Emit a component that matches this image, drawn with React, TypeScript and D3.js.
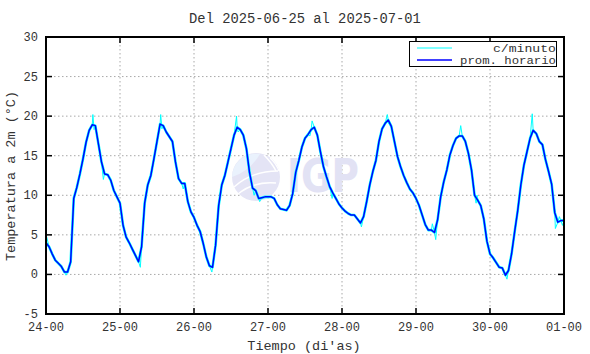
import React from 'react';
import * as d3 from 'd3';

const title = 'Del 2025-06-25 al 2025-07-01';
const xLabel = "Tiempo (di'as)";
const yLabel = 'Temperatura a 2m (°C)';
const xTickLabels = ['24-00', '25-00', '26-00', '27-00', '28-00', '29-00', '30-00', '01-00'];
const yTicks = [-5, 0, 5, 10, 15, 20, 25, 30];
const seriesNames = ['c/minuto', 'prom. horario'];

// hourly means, one array per day (hour 0..23)
const day24 = [4.0, 3.5, 2.6, 1.8, 1.4, 1.0, 0.3, 0.3, 1.6, 9.6, 11.0, 12.7, 14.6, 16.7, 18.2, 18.9, 18.8, 16.5, 14.2, 12.7, 12.6, 11.9, 10.6, 9.8];
const day25 = [9.0, 6.2, 4.7, 4.0, 3.2, 2.4, 1.6, 3.5, 9.0, 11.3, 12.5, 14.6, 16.8, 19.0, 18.8, 18.0, 17.4, 16.8, 14.2, 12.1, 11.5, 11.5, 9.2, 7.9];
const day26 = [7.2, 6.2, 5.4, 3.9, 2.2, 1.1, 0.9, 3.7, 8.7, 11.3, 12.5, 14.2, 15.9, 17.6, 18.6, 18.3, 17.6, 15.9, 12.9, 10.9, 10.6, 9.6, 9.7, 9.8];
const day27 = [9.8, 9.8, 9.6, 8.8, 8.3, 8.2, 8.1, 8.7, 10.2, 12.9, 14.4, 16.1, 17.2, 17.7, 18.3, 18.6, 17.6, 15.5, 13.6, 12.3, 11.1, 10.3, 9.6, 8.9];
const day28 = [8.4, 8.0, 7.7, 7.5, 7.5, 7.0, 6.5, 7.3, 9.2, 11.3, 13.0, 14.4, 16.8, 18.4, 19.1, 19.5, 18.7, 16.8, 14.9, 13.6, 12.5, 11.6, 10.8, 10.3];
const day29 = [9.6, 8.7, 7.5, 6.3, 5.6, 5.6, 5.3, 6.9, 9.8, 11.7, 13.2, 15.1, 16.3, 17.2, 17.5, 17.5, 16.8, 15.3, 13.2, 10.0, 9.4, 8.7, 7.0, 4.2];
const day30 = [2.6, 2.1, 1.5, 0.9, 0.8, -0.1, 0.5, 2.6, 5.4, 8.1, 11.3, 13.8, 15.5, 17.2, 18.2, 17.8, 16.8, 16.4, 14.5, 13.0, 11.4, 7.8, 6.6, 6.8];
const day01 = [6.8];

// per-minute excursions visible around the hourly line: [hour from start, value]
const minuteSpikes: [number, number][] = [
  [0.05, 5.0], [6.5, -0.1], [15.2, 20.2], [15.6, 18.3], [18.6, 12.0],
  [30.6, 0.9], [37.2, 20.2], [37.6, 18.4], [44.5, 10.8],
  [53.8, 0.3], [61.8, 20.0], [62.3, 18.0], [67.5, 10.0], [69.3, 9.2],
  [85.6, 17.5], [86.3, 19.4], [92.8, 9.6],
  [102.3, 6.0], [110.7, 20.2], [111.2, 19.0],
  [125.3, 6.4], [126.4, 4.4], [134.5, 18.8], [139.5, 9.0], [139.8, 10.0],
  [149.5, -0.6], [157.7, 20.3], [158.1, 18.0], [165.2, 5.8], [166.5, 7.3], [167.5, 6.2],
];

const font = '"Liberation Mono", "DejaVu Sans Mono", monospace';

export default function App() {
  const left = 46, right = 564, top = 37, bottom = 314;
  const hourly = [...day24, ...day25, ...day26, ...day27, ...day28, ...day29, ...day30, ...day01];

  const x = d3.scaleLinear().domain([0, 168]).range([left, right]);
  const y = d3.scaleLinear().domain([-5, 30]).range([bottom, top]);
  const xTicks = xTickLabels.map((_, i) => i * 24);

  const line = d3.line<[number, number]>().x((d) => x(d[0])).y((d) => y(d[1]));
  const hourlyPts: [number, number][] = hourly.map((v, i) => [i, v]);
  const minutePts: [number, number][] = [...hourlyPts, ...minuteSpikes].sort((a, b) => a[0] - b[0]);

  // watermark position
  const wx = 256, wy = 177, wr = 24;

  return (
    <svg width={590} height={354} style={{ position: 'fixed', left: 0, top: 0, background: '#fff' }}>
      <text x={305} y={23} textAnchor="middle" fontFamily={font} fontSize={13.8} fill="#333">{title}</text>

      {/* grid */}
      {yTicks.filter((t) => t > -5 && t < 30).map((t) => (
        <line key={'gy' + t} x1={left} x2={right} y1={y(t)} y2={y(t)} stroke="#a8a8a8" strokeWidth={1} strokeDasharray="1.5,2.5" />
      ))}
      {xTicks.filter((t) => t > 0 && t < 168).map((t) => (
        <line key={'gx' + t} x1={x(t)} x2={x(t)} y1={top} y2={bottom} stroke="#a8a8a8" strokeWidth={1} strokeDasharray="1.5,2.5" />
      ))}

      {/* IGP watermark */}
      <g>
        <circle cx={wx} cy={wy} r={wr} fill="#e4e4f5" />
        <path d={`M${wx - wr} ${wy} A${wr} ${wr} 0 0 1 ${wx + 4} ${wy - wr + 1} Q${wx - 6} ${wy - 6} ${wx - wr} ${wy}`} fill="#eaf2fd" />
        <path d={`M${wx - wr + 2} ${wy + 10} Q${wx - 4} ${wy - 6} ${wx + 22} ${wy - 6}`} fill="none" stroke="#fff" strokeWidth={1.5} />
        <path d={`M${wx - 18} ${wy + 17} Q${wx - 2} ${wy + 4} ${wx + 20} ${wy + 6}`} fill="none" stroke="#fff" strokeWidth={1.5} />
        <path d={`M${wx + 8} ${wy - 22} Q${wx + 16} ${wy - 14} ${wx + 20} ${wy - 6}`} fill="none" stroke="#fff" strokeWidth={1.5} />
        <path d={`M${wx + 14} ${wy - 19} Q${wx + 20} ${wy - 14} ${wx + 23} ${wy - 6}`} fill="none" stroke="#fff" strokeWidth={1.2} />
        <text x={287} y={192} fontFamily="'DejaVu Sans', sans-serif" fontWeight="bold" fontSize={46} fill="#e2e2f4" textLength={72} lengthAdjust="spacingAndGlyphs">IGP</text>
      </g>

      {/* series */}
      <path d={line(hourlyPts) || ''} fill="none" stroke="#00ffff" strokeWidth={2.6} strokeLinejoin="round" />
      <path d={line(minutePts) || ''} fill="none" stroke="#00ffff" strokeWidth={1} />
      <path d={line(hourlyPts) || ''} fill="none" stroke="#0000ff" strokeWidth={1.5} strokeLinejoin="round" />

      {/* border and ticks */}
      <rect x={left} y={top} width={right - left} height={bottom - top} fill="none" stroke="#000" strokeWidth={2} />
      {yTicks.map((t) => (
        <g key={'ty' + t}>
          <line x1={left} x2={left + 6} y1={y(t)} y2={y(t)} stroke="#000" strokeWidth={1.5} />
          <line x1={right - 6} x2={right} y1={y(t)} y2={y(t)} stroke="#000" strokeWidth={1.5} />
          <text x={38} y={y(t) + 4} textAnchor="end" fontFamily={font} fontSize={12} fill="#333">{t}</text>
        </g>
      ))}
      {xTicks.map((t, i) => (
        <g key={'tx' + t}>
          <line x1={x(t)} x2={x(t)} y1={bottom} y2={bottom - 6} stroke="#000" strokeWidth={1.5} />
          <line x1={x(t)} x2={x(t)} y1={top} y2={top + 6} stroke="#000" strokeWidth={1.5} />
          <text x={x(t)} y={331} textAnchor="middle" fontFamily={font} fontSize={12} fill="#333">{xTickLabels[i]}</text>
        </g>
      ))}

      {/* axis titles */}
      <text x={304} y={350} textAnchor="middle" fontFamily={font} fontSize={13.5} fill="#333">{xLabel}</text>
      <text transform="translate(15,176) rotate(-90)" textAnchor="middle" fontFamily={font} fontSize={13.5} fill="#333">{yLabel}</text>

      {/* legend */}
      <rect x={409.5} y={41.5} width={147} height={25} fill="#fff" stroke="#000" strokeWidth={1} />
      <line x1={417} x2={452} y1={48} y2={48} stroke="#00ffff" strokeWidth={1} />
      <line x1={417} x2={452} y1={60} y2={60} stroke="#0000ff" strokeWidth={1.5} />
      <text x={556} y={52} textAnchor="end" fontFamily={font} fontSize={11.5} fill="#333" textLength={63} lengthAdjust="spacingAndGlyphs">{seriesNames[0]}</text>
      <text x={556} y={63.5} textAnchor="end" fontFamily={font} fontSize={11.5} fill="#333" textLength={96} lengthAdjust="spacingAndGlyphs">{seriesNames[1]}</text>
    </svg>
  );
}
